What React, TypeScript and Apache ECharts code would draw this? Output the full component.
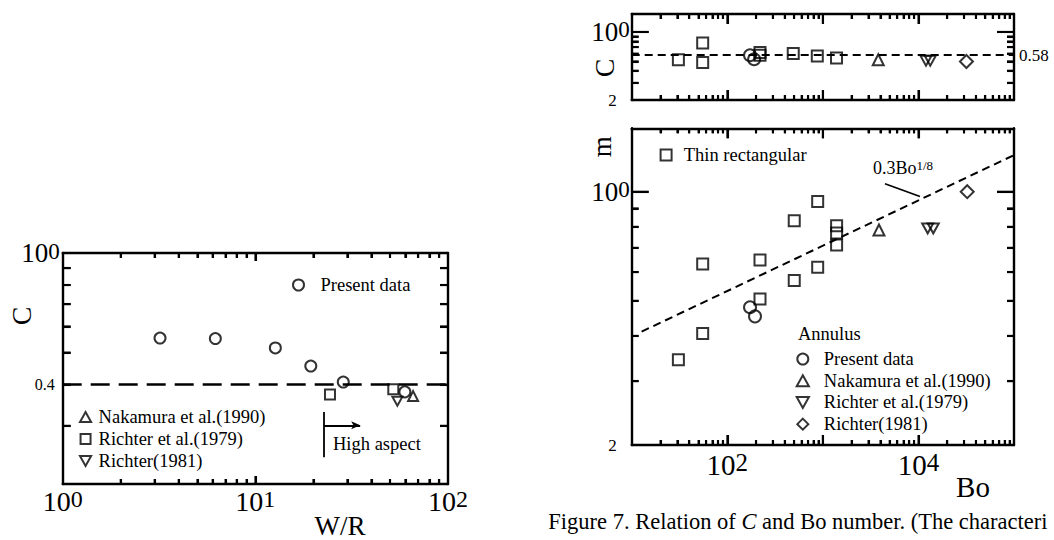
import React, { useEffect, useRef } from "react";
import * as echarts from "echarts";

const SERIF = '"Liberation Serif", "Times New Roman", serif';

// ---------- Left plot: C vs W/R ----------
const leftPresentWR = [3.2, 6.2, 12.7, 19.4, 28.6, 59.7];
const leftPresentC = [0.553, 0.551, 0.516, 0.455, 0.407, 0.38];
const leftRichter79WR = [24.4, 52.0];
const leftRichter79C = [0.373, 0.387];
const leftNakamuraWR = [65.9];
const leftNakamuraC = [0.369];
const leftRichter81WR = [54.6];
const leftRichter81C = [0.356];
const leftConstC = 0.4;
const leftWRRange = [1, 100];
const leftCRange = [0.2, 1.0];
const leftXLabelExp = [0, 1, 2];
const leftYLabelValues = [0.4, 1.0];
const highAspectWR = [22.7, 35];
const highAspectC = [0.33, 0.241, 0.301];

// ---------- Right top: C vs Bo ----------
const topThinBo = [30.8, 55.3, 55.3, 220, 220, 490, 875, 1390];
const topThinC = [0.518, 0.769, 0.486, 0.616, 0.575, 0.602, 0.565, 0.539];
const topPresentBo = [173, 191];
const topPresentC = [0.576, 0.524];
const topNakamuraBo = [3800];
const topNakamuraC = [0.518];
const topRichter79Bo = [12000, 13300];
const topRichter79C = [0.506, 0.506];
const topRichter81Bo = [31800];
const topRichter81C = [0.497];
const topConstC = 0.58;
const topCRange = [0.2, 1.53];

// ---------- Right bottom: m vs Bo ----------
const botThinBo = [30.8, 55.3, 55.3, 220, 220, 502, 502, 883, 883, 1393, 1393, 1393];
const botThinM = [0.344, 0.632, 0.406, 0.648, 0.506, 0.832, 0.569, 0.939, 0.619, 0.806, 0.769, 0.713];
const botPresentBo = [173, 195];
const botPresentM = [0.48, 0.453];
const botNakamuraBo = [3865];
const botNakamuraM = [0.784];
const botRichter79Bo = [12500, 14300];
const botRichter79M = [0.792, 0.792];
const botRichter81Bo = [32400];
const botRichter81M = [1.0];
const fitBo = [12.7, 100000];
const fitM = [0.411, 1.262];
const fitLeaderBo = [4470, 10380];
const fitLeaderM = [1.052, 0.97];
const botMRange = [0.2, 1.496];

const boRange = [10, 100000];
const rightXLabelExp = [2, 4];
const rightYLabelValues = [0.2, 1.0];
const tickMantissas = [2, 3, 4, 5, 6, 7, 8, 9];
const leftXDecades = [0, 1];
const leftXMajorExp = [1];
const rightXDecades = [1, 2, 3, 4];
const rightXMajorExp = [2, 3, 4];
const yMinorValues = [0.3, 0.4, 0.5, 0.6, 0.7, 0.8, 0.9];
const rightYMajorValues = [1.0];

// layout of the three plot boxes (pixels)
const GRIDS = [
  { left: 62.7, top: 253, width: 385.3, height: 231 },
  { left: 631.7, top: 14, width: 382.3, height: 86 },
  { left: 631.7, top: 128.3, width: 382.3, height: 316.7 },
];

const L = Math.log10;
const near = (a: number, b: number) => Math.abs(a - b) < 1e-6;
const zipLog = (xs: number[], ys: number[]) => xs.map((x, i) => [L(x), L(ys[i])]);

function powRich(base: number, sup: number) {
  return {
    b: { fontFamily: SERIF, fontSize: base, lineHeight: base, color: "#000", verticalAlign: "bottom" },
    s: {
      fontFamily: SERIF,
      fontSize: sup,
      lineHeight: sup,
      color: "#000",
      verticalAlign: "top",
      padding: [0, 0, Math.round(base * 0.42), 0],
    },
  };
}

function axis(grid: number, pos: string, min: number, max: number, label?: any, name?: any) {
  return {
    type: "value",
    gridIndex: grid,
    position: pos,
    min,
    max,
    axisLine: { show: true, onZero: false, lineStyle: { color: "#000", width: 2.4 } },
    axisTick: { show: false },
    axisLabel: label ? { show: true, ...label } : { show: false },
    splitLine: { show: false },
    minorTick: { show: false },
    silent: true,
    ...(name || {}),
  };
}

const open = { color: "rgba(0,0,0,0)", borderColor: "#000", borderWidth: 2 };
const INV_TRI = "path://M0,0L10,0L5,9Z";
const UP_TRI = "path://M5,0L10,9L0,9Z";
const SQUARE = "path://M0,0H10V10H0Z";
const DIAMOND = "path://M5,0L10,5L5,10L0,5Z";

function scatter(name: string, xi: number, yi: number, data: number[][], symbol: string, size: number) {
  return {
    type: "scatter",
    name,
    xAxisIndex: xi,
    yAxisIndex: yi,
    data,
    symbol,
    symbolSize: size,
    symbolKeepAspect: true,
    itemStyle: open,
    silent: true,
    z: 5,
  };
}

function decadeMinor(decades: number[]) {
  const out: number[] = [];
  for (const d of decades) for (const k of tickMantissas) out.push(L(k) + d);
  return out;
}

const TICK_W = 2.1;

// Ticks as thin filled bar symbols anchored on the box edges (scatter), offset inward.
function tickScatter(xi: number, yi: number, xr: number[], yr: number[], kind: "x" | "y", len: number, values: number[]) {
  const base = {
    type: "scatter",
    name: "tick",
    xAxisIndex: xi,
    yAxisIndex: yi,
    symbol: "rect",
    silent: true,
    clip: false,
    z: 4,
    itemStyle: { color: "#000", borderWidth: 0 },
  };
  if (kind === "x") {
    return [
      { ...base, data: values.map((v) => [v, yr[0]]), symbolSize: [TICK_W, len], symbolOffset: [0, -len / 2] },
      { ...base, data: values.map((v) => [v, yr[1]]), symbolSize: [TICK_W, len], symbolOffset: [0, len / 2] },
    ];
  }
  return [
    { ...base, data: values.map((v) => [xr[0], v]), symbolSize: [len, TICK_W], symbolOffset: [len / 2, 0] },
    { ...base, data: values.map((v) => [xr[1], v]), symbolSize: [len, TICK_W], symbolOffset: [-len / 2, 0] },
  ];
}

// Same ticks as markLine segments in data coordinates (second drawing path).
function tickLines(g: number, xr: number[], yr: number[], kind: "x" | "y", len: number, values: number[]) {
  const box = GRIDS[g];
  const out: any[] = [];
  if (kind === "x") {
    const u = (yr[1] - yr[0]) / box.height;
    for (const v of values) {
      out.push([{ coord: [v, yr[0] + 0.4 * u] }, { coord: [v, yr[0] + len * u] }]);
      out.push([{ coord: [v, yr[1] - 0.4 * u] }, { coord: [v, yr[1] - len * u] }]);
    }
  } else {
    const u = (xr[1] - xr[0]) / box.width;
    for (const v of values) {
      out.push([{ coord: [xr[0] + 0.4 * u, v] }, { coord: [xr[0] + len * u, v] }]);
      out.push([{ coord: [xr[1] - 0.4 * u, v] }, { coord: [xr[1] - len * u, v] }]);
    }
  }
  return out;
}

const markLineBase = {
  silent: true,
  animation: false,
  symbol: ["none", "none"],
  label: { show: false },
  emphasis: { disabled: true },
  lineStyle: { color: "#000", width: TICK_W, type: "solid" },
};

export default function App() {
  const ref = useRef<HTMLDivElement>(null);
  useEffect(() => {
    if (!ref.current) return;
    const chart = echarts.init(ref.current, null, { renderer: "svg", width: 1054, height: 540 });

    const leftX = [L(leftWRRange[0]), L(leftWRRange[1])];
    const leftY = [L(leftCRange[0]), L(leftCRange[1])];
    const boX = [L(boRange[0]), L(boRange[1])];
    const topY = [L(topCRange[0]), L(topCRange[1])];
    const botY = [L(botMRange[0]), L(botMRange[1])];
    const yMinorLog = yMinorValues.map(L);
    const rightYMajorLog = rightYMajorValues.map(L);

    // [grid, xAxisIndex, yAxisIndex, xRange, yRange, kind, length, values]
    const tickSpecs: [number, number, number, number[], number[], "x" | "y", number, number[]][] = [
      [0, 0, 0, leftX, leftY, "x", 5, decadeMinor(leftXDecades)],
      [0, 0, 0, leftX, leftY, "x", 8, leftXMajorExp],
      [0, 0, 0, leftX, leftY, "y", 8, yMinorLog],
      [1, 2, 2, boX, topY, "x", 5, decadeMinor(rightXDecades)],
      [1, 2, 2, boX, topY, "x", 10, rightXMajorExp],
      [1, 2, 2, boX, topY, "y", 7, yMinorLog],
      [1, 2, 2, boX, topY, "y", 17, rightYMajorLog],
      [2, 4, 4, boX, botY, "x", 5, decadeMinor(rightXDecades)],
      [2, 4, 4, boX, botY, "x", 10, rightXMajorExp],
      [2, 4, 4, boX, botY, "y", 7, yMinorLog],
      [2, 4, 4, boX, botY, "y", 17, rightYMajorLog],
    ];
    const tickSeries = tickSpecs.flatMap((s) => tickScatter(s[1], s[2], s[3], s[4], s[5], s[6], s[7]));
    const markTicks = (g: number) =>
      tickSpecs.filter((s) => s[0] === g).flatMap((s) => tickLines(s[0], s[3], s[4], s[5], s[6], s[7]));

    const leftXLabel = {
      customValues: leftXLabelExp,
      margin: 3,
      formatter: (v: number) => `{b|10}{s|${Math.round(v)}}`,
      rich: powRich(28, 24),
    };
    const rightXLabel = {
      customValues: rightXLabelExp,
      margin: 5,
      formatter: (v: number) => `{b|10}{s|${Math.round(v)}}`,
      rich: powRich(29, 25),
    };
    const leftYLabel = {
      customValues: leftYLabelValues.map(L),
      margin: 3,
      formatter: (v: number) => (near(v, 0) ? "{b|10}{s|0}" : `{m|${leftYLabelValues[0]}}`),
      rich: {
        ...powRich(27, 23),
        m: { fontFamily: SERIF, fontSize: 16, color: "#000", padding: [0, 5, 0, 0] },
      },
    };
    const rightYLabel = {
      customValues: rightYLabelValues.map(L),
      margin: 2,
      formatter: (v: number) => (near(v, 0) ? "{b|10}{s|0}" : `{m|${Math.round(rightYLabelValues[0] * 10)}}`),
      rich: {
        ...powRich(27, 23),
        m: { fontFamily: SERIF, fontSize: 17, color: "#000", padding: [0, 13, 0, 0] },
      },
    };

    const yName = (name: string, gap: number, padding: number[], size: number) => ({
      name,
      nameLocation: "middle",
      nameRotate: 90,
      nameGap: gap,
      nameMoveOverlap: false,
      nameTextStyle: { fontFamily: SERIF, fontSize: size, lineHeight: size, color: "#000", padding },
    });

    const xAxis = [
      axis(0, "bottom", leftX[0], leftX[1], leftXLabel),
      axis(0, "top", leftX[0], leftX[1]),
      axis(1, "bottom", boX[0], boX[1]),
      axis(1, "top", boX[0], boX[1]),
      axis(2, "bottom", boX[0], boX[1], rightXLabel),
      axis(2, "top", boX[0], boX[1]),
    ];
    const yAxis = [
      axis(0, "left", leftY[0], leftY[1], leftYLabel, yName("C", 27, [0, 0, 0, 105], 28)),
      axis(0, "right", leftY[0], leftY[1]),
      axis(1, "left", topY[0], topY[1], rightYLabel, yName("C", 13, [0, 22, 0, 0], 28)),
      axis(1, "right", topY[0], topY[1]),
      axis(2, "left", botY[0], botY[1], rightYLabel, yName("m", 16, [0, 0, 0, 280], 27)),
      axis(2, "right", botY[0], botY[1]),
    ];

    const series: any[] = [
      scatter("Present data", 0, 0, zipLog(leftPresentWR, leftPresentC), "circle", 11),
      scatter("Richter et al.(1979)", 0, 0, zipLog(leftRichter79WR, leftRichter79C), "rect", 10),
      scatter("Nakamura et al.(1990)", 0, 0, zipLog(leftNakamuraWR, leftNakamuraC), "triangle", 10),
      scatter("Richter(1981)", 0, 0, zipLog(leftRichter81WR, leftRichter81C), INV_TRI, 10),
      {
        type: "line",
        name: "C=0.4",
        xAxisIndex: 0,
        yAxisIndex: 0,
        data: [
          [leftX[0], L(leftConstC)],
          [leftX[1], L(leftConstC)],
        ],
        symbol: "none",
        silent: true,
        clip: false,
        lineStyle: { color: "#000", width: 2.6, type: [19, 9] },
        markLine: {
          ...markLineBase,
          data: [
            ...markTicks(0),
            [
              { coord: [L(highAspectWR[0]), L(highAspectC[0])], lineStyle: { width: 1.8 } },
              { coord: [L(highAspectWR[0]), L(highAspectC[1])] },
            ],
            [
              { coord: [L(highAspectWR[0]), L(highAspectC[2])], lineStyle: { width: 1.8 } },
              { coord: [L(highAspectWR[1]), L(highAspectC[2])], symbol: "arrow", symbolSize: [6, 9] },
            ],
          ],
        },
      },
      scatter("Thin rectangular", 2, 2, zipLog(topThinBo, topThinC), "rect", 11),
      scatter("Present data", 2, 2, zipLog(topPresentBo, topPresentC), "circle", 12),
      scatter("Nakamura et al.(1990)", 2, 2, zipLog(topNakamuraBo, topNakamuraC), "triangle", 11),
      scatter("Richter et al.(1979)", 2, 2, zipLog(topRichter79Bo, topRichter79C), INV_TRI, 11),
      scatter("Richter(1981)", 2, 2, zipLog(topRichter81Bo, topRichter81C), "diamond", 13),
      {
        type: "line",
        name: "C=0.58",
        xAxisIndex: 2,
        yAxisIndex: 2,
        data: [
          [boX[0], L(topConstC)],
          [boX[1], L(topConstC)],
        ],
        symbol: "none",
        silent: true,
        clip: false,
        lineStyle: { color: "#000", width: 2, type: [8, 5] },
        markLine: { ...markLineBase, data: markTicks(1) },
      },
      scatter("Thin rectangular", 4, 4, zipLog(botThinBo, botThinM), "rect", 11),
      scatter("Present data", 4, 4, zipLog(botPresentBo, botPresentM), "circle", 12),
      scatter("Nakamura et al.(1990)", 4, 4, zipLog(botNakamuraBo, botNakamuraM), "triangle", 11),
      scatter("Richter et al.(1979)", 4, 4, zipLog(botRichter79Bo, botRichter79M), INV_TRI, 11),
      scatter("Richter(1981)", 4, 4, zipLog(botRichter81Bo, botRichter81M), "diamond", 13),
      {
        type: "line",
        name: "0.3Bo^(1/8)",
        xAxisIndex: 4,
        yAxisIndex: 4,
        data: zipLog(fitBo, fitM),
        symbol: "none",
        silent: true,
        clip: false,
        lineStyle: { color: "#000", width: 2, type: [8, 5] },
        markLine: {
          ...markLineBase,
          data: [
            ...markTicks(2),
            [
              { coord: [L(fitLeaderBo[0]), L(fitLeaderM[0])], lineStyle: { width: 1.6 } },
              { coord: [L(fitLeaderBo[1]), L(fitLeaderM[1])] },
            ],
          ],
        },
      },
      ...tickSeries,
    ];

    const legendText = { fontFamily: SERIF, fontSize: 18.5, color: "#000" };
    const legendBase = {
      orient: "vertical",
      align: "left",
      padding: 0,
      itemGap: 0,
      selectedMode: false,
      itemStyle: { color: "rgba(0,0,0,0)", borderColor: "#000", borderWidth: 2 },
    };
    const legend = [
      {
        ...legendBase,
        left: 292,
        top: 274,
        itemWidth: 34,
        itemHeight: 11,
        textStyle: { ...legendText, lineHeight: 22 },
        data: [{ name: "Present data", icon: "circle" }],
      },
      {
        ...legendBase,
        left: 79,
        top: 406,
        itemWidth: 16,
        itemHeight: 10,
        textStyle: { ...legendText, lineHeight: 22 },
        data: [
          { name: "Nakamura et al.(1990)", icon: UP_TRI },
          { name: "Richter et al.(1979)", icon: SQUARE },
          { name: "Richter(1981)", icon: INV_TRI },
        ],
      },
      {
        ...legendBase,
        left: 659.6,
        top: 144,
        itemWidth: 25.4,
        itemHeight: 11,
        textStyle: { ...legendText, lineHeight: 22 },
        data: [{ name: "Thin rectangular", icon: SQUARE }],
      },
      {
        ...legendBase,
        left: 795.7,
        top: 348.2,
        itemWidth: 32,
        itemHeight: 11,
        textStyle: { ...legendText, lineHeight: 21.7 },
        data: [
          { name: "Present data", icon: "circle" },
          { name: "Nakamura et al.(1990)", icon: UP_TRI },
          { name: "Richter et al.(1979)", icon: INV_TRI },
          { name: "Richter(1981)", icon: DIAMOND },
        ],
      },
    ];

    const txt = (text: string, x: number, y: number, size: number, align = "left") => ({
      type: "text",
      x,
      y,
      silent: true,
      style: {
        text,
        fontFamily: SERIF,
        fontSize: size,
        fill: "#000",
        align,
        verticalAlign: "middle",
      },
    });

    const graphic = [
      txt("W/R", 340, 526, 27, "center"),
      txt("High aspect", 333, 444, 18.5),
      txt("0.58", 1019, 55, 17),
      txt("Annulus", 798, 334, 18.5),
      txt("Bo", 973, 487, 29, "center"),
      {
        type: "text",
        x: 873,
        y: 168,
        silent: true,
        style: {
          text: "{a|0.3Bo}{s|1/8}",
          verticalAlign: "middle",
          rich: {
            a: { fontFamily: SERIF, fontSize: 18, lineHeight: 18, fill: "#000", verticalAlign: "bottom" },
            s: { fontFamily: SERIF, fontSize: 13, lineHeight: 13, fill: "#000", verticalAlign: "top", padding: [0, 0, 9, 0] },
          },
        },
      },
      {
        type: "text",
        x: 548.3,
        y: 521,
        silent: true,
        style: {
          text: "{n|Figure 7. Relation of }{i|C}{n| and Bo number. (The characteri}",
          verticalAlign: "middle",
          rich: {
            n: { fontFamily: SERIF, fontSize: 22.5, fill: "#000" },
            i: { fontFamily: SERIF, fontSize: 22.5, fill: "#000", fontStyle: "italic" },
          },
        },
      },
    ];

    chart.setOption({
      animation: false,
      backgroundColor: "#fff",
      grid: GRIDS.map((g) => ({ ...g, show: false, containLabel: false, outerBoundsMode: "none" })),
      xAxis,
      yAxis,
      legend,
      series,
      graphic,
    } as any);

    return () => chart.dispose();
  }, []);

  return <div ref={ref} style={{ position: "absolute", left: 0, top: 0, width: 1054, height: 540, background: "#fff" }} />;
}
